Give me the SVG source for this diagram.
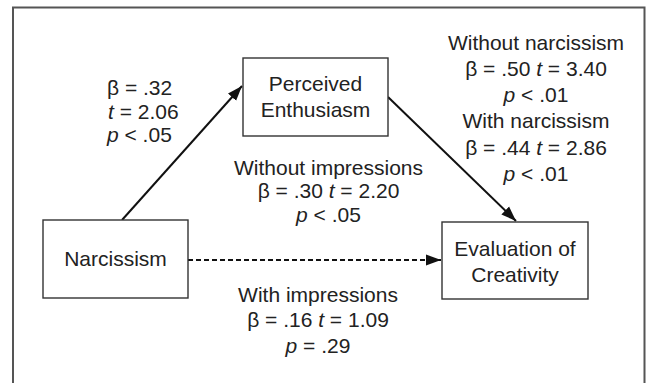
<svg xmlns="http://www.w3.org/2000/svg" width="656" height="383" viewBox="0 0 656 383">
<defs>
<marker id="ah" markerUnits="userSpaceOnUse" markerWidth="16" markerHeight="12" refX="15" refY="6" orient="auto">
<path d="M0,0.5 L15,6 L0,11.5 Z" fill="#111"/>
</marker>
<style>
text{font-family:"Liberation Sans",Arial,sans-serif;font-size:21px;fill:#222;text-anchor:middle}
.l{text-anchor:start}
.i{font-style:italic}
.box{fill:#fff;stroke:#333;stroke-width:1.4}
.con{stroke:#111;stroke-width:2;fill:none}
</style>
</defs>
<rect width="656" height="383" fill="#fff"/>
<path d="M13,383 V7.5 H644.5 V383" fill="none" stroke="#555" stroke-width="2"/>
<g id="connectors">
<line class="con" x1="122" y1="220" x2="242" y2="86" marker-end="url(#ah)"/>
<line class="con" x1="388" y1="97" x2="516" y2="221" marker-end="url(#ah)"/>
<line class="con" x1="188" y1="260" x2="441" y2="260" stroke-dasharray="5,3" marker-end="url(#ah)"/>
</g>
<g id="narcissism">
<rect class="box" x="43" y="220" width="145" height="78"/>
<text x="115.5" y="266">Narcissism</text>
</g>
<g id="perceived-enthusiasm">
<rect class="box" x="243" y="58" width="145" height="78"/>
<text x="315.5" y="91">Perceived</text>
<text x="315.5" y="117">Enthusiasm</text>
</g>
<g id="evaluation-of-creativity">
<rect class="box" x="442" y="222" width="146" height="77"/>
<text x="515" y="256">Evaluation of</text>
<text x="515" y="282">Creativity</text>
</g>
<g id="label-a">
<text class="l" x="107" y="95">β = .32</text>
<text class="l" x="108" y="119"><tspan class="i">t</tspan> = 2.06</text>
<text class="l" x="107" y="142"><tspan class="i">p</tspan> &lt; .05</text>
</g>
<g id="label-b">
<text x="536" y="50">Without narcissism</text>
<text x="536" y="76">β = .50 <tspan class="i">t</tspan> = 3.40</text>
<text x="536" y="102"><tspan class="i">p</tspan> &lt; .01</text>
<text x="536" y="128">With narcissism</text>
<text x="536" y="155">β = .44 <tspan class="i">t</tspan> = 2.86</text>
<text x="536" y="181"><tspan class="i">p</tspan> &lt; .01</text>
</g>
<g id="label-c">
<text x="328.5" y="175">Without impressions</text>
<text x="328.5" y="198">β = .30 <tspan class="i">t</tspan> = 2.20</text>
<text x="328.5" y="222"><tspan class="i">p</tspan> &lt; .05</text>
</g>
<g id="label-c2">
<text x="318" y="302">With impressions</text>
<text x="318" y="327">β = .16 <tspan class="i">t</tspan> = 1.09</text>
<text x="318" y="353"><tspan class="i">p</tspan> = .29</text>
</g>
</svg>
